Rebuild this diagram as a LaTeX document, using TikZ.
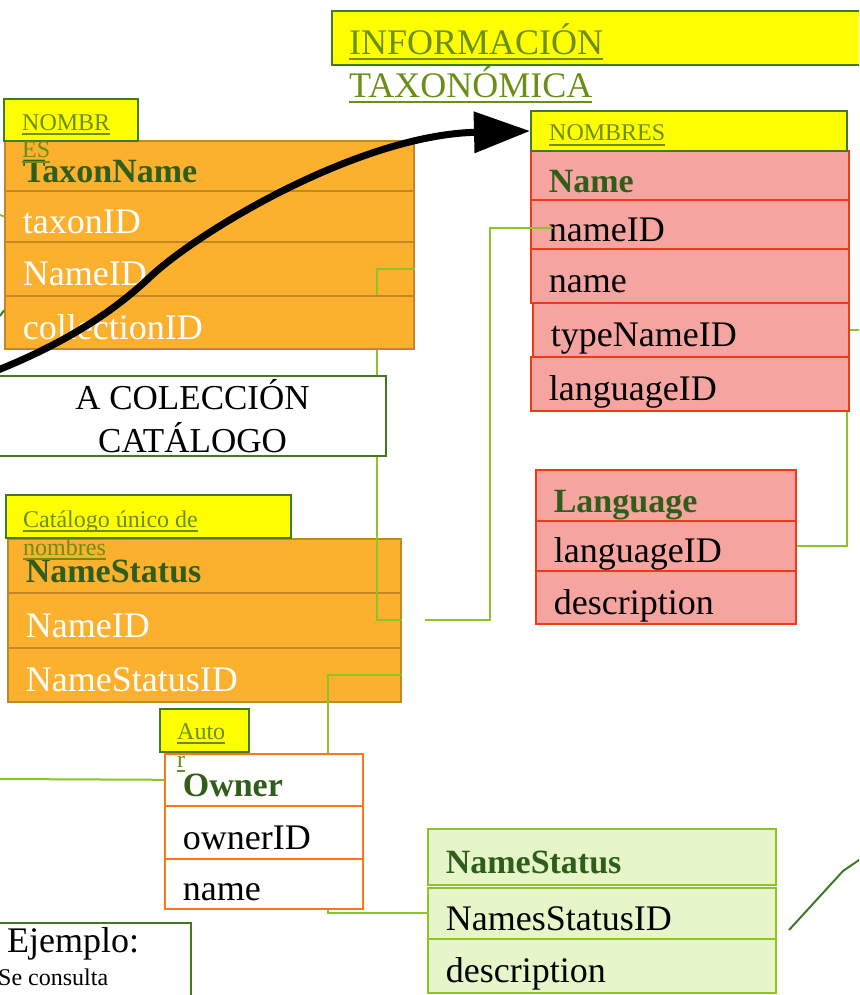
\documentclass[tikz,border=0pt]{standalone}
\usepackage{fontspec}
\setmainfont{Liberation Serif}
\usetikzlibrary{arrows.meta}

\newcommand{\ulbar}[1]{\setbox0\hbox{#1}\leavevmode\rlap{\vrule height -3pt depth 5pt width \wd0}\box0}

\definecolor{tabOrange}{RGB}{251,176,46}
\definecolor{tabOrangeLine}{RGB}{196,134,38}
\definecolor{tabPink}{RGB}{246,164,160}
\definecolor{tabRed}{RGB}{240,58,23}
\definecolor{tabLime}{RGB}{230,246,200}
\definecolor{limeLine}{RGB}{141,196,38}
\definecolor{ownerOrange}{RGB}{255,118,25}
\definecolor{hdrGreen}{RGB}{47,94,26}
\definecolor{olive}{RGB}{106,142,22}
\definecolor{boxGreen}{RGB}{66,122,36}
\definecolor{labelYellow}{RGB}{255,255,0}

\tikzset{
  cell/.style={rectangle, anchor=north west, line width=1.6pt, inner xsep=18pt, inner ysep=0pt,
    text height=34pt, text depth=0pt, align=left, font=\fontsize{36}{40}\selectfont},
  hdr/.style={font=\fontsize{34}{40}\selectfont\bfseries, text=hdrGreen},
  orangecell/.style={cell, draw=tabOrangeLine, fill=tabOrange, text=white},
  pinkcell/.style={cell, draw=tabRed, fill=tabPink},
  ownercell/.style={cell, draw=ownerOrange, fill=white},
  limecell/.style={cell, draw=limeLine, fill=tabLime},
  lblbox/.style={rectangle, anchor=north west, draw=boxGreen, fill=labelYellow, line width=2pt},
  lbltext/.style={anchor=base west, inner sep=0pt, align=left, text=olive, font=\fontsize{24}{28}\selectfont},
  plainbox/.style={rectangle, anchor=north west, draw=boxGreen, fill=white, line width=2pt},
  link/.style={draw=limeLine, line width=2pt},
  darklink/.style={draw=boxGreen, line width=2pt},
}

\begin{document}
\begin{tikzpicture}[x=1pt,y=-1pt]
\useasboundingbox (0,0) rectangle (859,995);
\clip (0,0) rectangle (859,995);

% title (base = last line)
\node[lblbox, minimum width=560pt, minimum height=54pt] (ttlBox) at (331,10) {};
\node[lbltext, font=\fontsize{36}{43}\selectfont] (ttlText) at (349,98) {\ulbar{INFORMACIÓN}\\\ulbar{TAXONÓMICA}};

% TaxonName
\node[orangecell, hdr, text width=373pt, minimum height=50pt] (tnHead) at (4,140) {TaxonName};
\node[orangecell, text width=373pt, minimum height=51pt] (tnTaxon) at (4,190) {taxonID};
\node[orangecell, text width=373pt, minimum height=54pt] (tnNameID) at (4,241) {NameID};

% NameStatus (catalogo)
\node[orangecell, hdr, text width=357pt, minimum height=54pt] (nsHead) at (7,538) {NameStatus};
\node[orangecell, text width=357pt, minimum height=55pt] (nsNameID) at (7,592) {NameID};
\node[orangecell, text width=357pt, minimum height=54pt] (nsStID) at (7,647) {NameStatusID};

% Owner
\node[ownercell, hdr, text width=162pt, minimum height=52pt] (ownHead) at (164,753) {Owner};
\node[ownercell, text width=162pt, minimum height=53pt] (ownID) at (164,805) {ownerID};
\node[ownercell, text width=162pt, minimum height=50pt] (ownName) at (164,858) {name};

% Name
\node[pinkcell, hdr, text width=282pt, minimum height=49pt] (nmHead) at (530,150) {Name};
\node[pinkcell, text width=282pt, minimum height=49pt] (nmID) at (530,199) {nameID};
\node[pinkcell, text width=282pt, minimum height=54pt] (nmName) at (530,248) {name};
\node[pinkcell, text width=280pt, minimum height=54pt] (nmType) at (532,302) {typeNameID};
\node[pinkcell, text width=282pt, minimum height=54pt] (nmLang) at (530,356) {languageID};

% Language
\node[pinkcell, hdr, text width=224pt, minimum height=51pt] (lgHead) at (535,469) {Language};
\node[pinkcell, text width=224pt, minimum height=50pt] (lgID) at (535,520) {languageID};
\node[pinkcell, text width=224pt, minimum height=53pt] (lgDesc) at (535,570) {description};

% NameStatus (lista)
\node[limecell, hdr, text width=312pt, minimum height=56pt] (gsHead) at (427,828) {NameStatus};
\node[limecell, text width=312pt, minimum height=51pt] (gsID) at (427,887) {NamesStatusID};
\node[limecell, text width=312pt, minimum height=54pt] (gsDesc) at (427,938) {description};

% yellow labels
\node[lblbox, minimum width=134pt, minimum height=42pt] (nomLBox) at (3,98) {};
\node[lbltext] (nomLText) at (22,158) {\ulbar{NOMBR}\\\ulbar{ES}};
\node[lblbox, minimum width=285pt, minimum height=43pt] (catBox) at (5,494) {};
\node[lbltext] (catText) at (23,555) {\ulbar{Catálogo único de}\\\ulbar{nombres}};
\node[lblbox, minimum width=89pt, minimum height=43pt] (autBox) at (159,708) {};
\node[lbltext] (autText) at (177,767) {\ulbar{Auto}\\\ulbar{r}};
\node[lblbox, minimum width=316pt, minimum height=40pt] (nomR) at (530,110) {};
\node[lbltext] (nomRText) at (549,141) {\ulbar{NOMBRES}};

% links
\coordinate (nsFree) at (425,620);
\coordinate (ownFree) at (0,779);
\coordinate (taxFree) at (0,215);
\coordinate (colFree) at (0,316);
\coordinate (d1) at (789,930);
\coordinate (d2) at (843,871);
\coordinate (d3) at (862,858);
\draw[link] (tnNameID.east) -- ++(-38,0) |- (nsNameID.east);
\draw[link] ([shift={(23,4)}]nmID.west) -| ([xshift=65pt]nsFree) -- (nsFree);
\draw[link] (nmType.east) -- ++(15,0);
\draw[link] ([xshift=-3pt]nmLang.south east) |- (lgID.east);
\draw[link] (nsStID.east) -| ([xshift=64pt]ownHead.north);
\draw[link] ([xshift=64pt]ownName.south) |- (gsID.west);
\draw[link] (ownFree) -- (ownHead.west);
\draw[link] (taxFree) -- (tnTaxon.west);
\draw[darklink] (d1) -- (d2) -- (d3);

\node[orangecell, text width=373pt, minimum height=53pt] (tnColl) at (4,295) {collectionID};
\draw[darklink] (colFree) -- ([yshift=12pt]tnColl.west);

% boxes
\node[plainbox, minimum width=387pt, minimum height=78pt, align=center,
  font=\fontsize{35}{43}\selectfont] (colBox) at (-2,375) {A COLECCIÓN\\CATÁLOGO};
\node[plainbox, minimum width=197pt, minimum height=90pt] (ejBox) at (-7,922) {};
\node[anchor=base west, inner sep=0pt, font=\fontsize{36}{40}\selectfont] (ejTitle) at (7,952) {Ejemplo:};
\node[anchor=base west, inner sep=0pt, font=\fontsize{24}{28}\selectfont] (ejText) at (-2,985) {Se consulta};

% arrow
\coordinate (arrStart) at (-2,370);
\coordinate (arrBend) at (150,277);
\draw[line width=7pt, -{Triangle[length=56pt,width=40pt]}] (arrStart) .. controls (60,345) and (110,315) .. (arrBend)
  .. controls (200,230) and (360,135) .. (nomR.west);
\end{tikzpicture}
\end{document}
